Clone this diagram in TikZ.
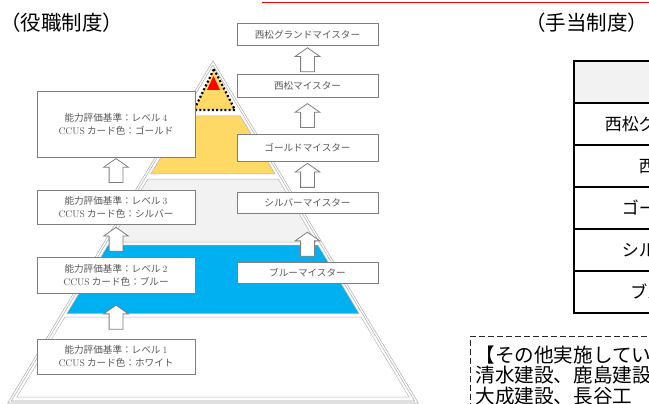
\documentclass[tikz,border=0pt]{standalone}
\usepackage{fontspec}
\newfontfamily\jp{Noto Sans CJK JP}
\usepackage{xcolor}
\usepackage{tikz}
\usetikzlibrary{shapes.arrows,positioning}
\definecolor{goldband}{HTML}{FFD966}
\definecolor{blueband}{HTML}{00B0F0}
\definecolor{silverband}{HTML}{F2F2F2}
\definecolor{boxline}{HTML}{7F7F7F}
\definecolor{boxtext}{HTML}{595959}

\begin{document}
\begin{tikzpicture}[x=1pt, y=-1pt,
    lvbox/.style={rectangle, draw=boxline, fill=white, line width=0.8pt, minimum width=158pt, align=center, text=boxtext, font=\jp\fontsize{9.6}{13}\selectfont},
    mbox/.style={rectangle, draw=boxline, fill=white, line width=0.8pt, minimum width=141pt, text=boxtext, font=\jp\fontsize{9.6}{10}\selectfont},
    blockup/.style={single arrow, draw=boxline, fill=white, line width=0.8pt, shape border rotate=90, minimum width=24pt, minimum height=24pt, single arrow head extend=5.5pt, single arrow tip angle=110, inner sep=6.5pt},
    band/.style={draw=gray!60, line width=0.5pt},
    cell/.style={rectangle, draw=black, line width=1.2pt, minimum width=248pt, minimum height=42pt, font=\jp\fontsize{17}{17}\selectfont},
    heading/.style={anchor=west, inner sep=0pt, font=\jp\fontsize{20.5}{20.5}\selectfont},
    notebox/.style={anchor=north west, draw=black!85, dash pattern=on 6pt off 3pt, line width=0.9pt, text width=260pt, align=left, inner xsep=5pt, inner ysep=9pt, font=\jp\fontsize{19.6}{20.5}\selectfont}
]
\useasboundingbox (0,0) rectangle (649,404);
\clip (0,0) rectangle (649,404);

\draw[red, line width=1pt] (262,2.5) -- (649,2.5);

% headings
\node[heading] (yaku) at (0,23) {（役職制度）};
\node[heading] (teate) at (525,23) {（手当制度）};

% pyramid
\filldraw[band, fill=goldband] (185.7,116) -- (240.3,116) -- (275.2,174) -- (150.8,174) -- cycle;
\filldraw[band, fill=silverband] (147.8,179) -- (278.2,179) -- (316,242) -- (110,242) -- cycle;
\filldraw[band, fill=blueband] (108.2,245) -- (317.8,245) -- (359,313.5) -- (67,313.5) -- cycle;
\filldraw[band, fill=white] (64.9,317) -- (361.1,317) -- (409.1,397) -- (16.9,397) -- cycle;
\filldraw[fill=goldband, draw=black, line width=2.2pt, dash pattern=on 2pt off 2.2pt] (214,69) -- (235,110) -- (194,110) -- cycle;
\fill[red] (213.5,76) -- (220,90) -- (207,90) -- cycle;
\draw[line width=0.6pt, draw=gray!70, double=white, double distance=1.4pt] (213,63) -- (416.5,402) -- (9.5,402) -- cycle;

% levels
\node[lvbox, minimum height=35pt] (lv1) at (116,356.5) {能力評価基準：レベル \textrm{1}\\\textrm{CCUS} カード色：ホワイト};
\node[lvbox, minimum height=36pt, above=45pt of lv1] (lv2) {能力評価基準：レベル \textrm{2}\\\textrm{CCUS} カード色：ブルー};
\node[lvbox, minimum height=34pt, above=32pt of lv2] (lv3) {能力評価基準：レベル \textrm{3}\\\textrm{CCUS} カード色：シルバー};
\node[lvbox, minimum height=66pt, above=32pt of lv3] (lv4) {能力評価基準：レベル \textrm{4}\\\textrm{CCUS} カード色：ゴールド};

\node[blockup, above=9pt of lv1] (b12) {};
\node[blockup, above=5pt of lv2] (b23) {};
\node[blockup, above=7pt of lv3] (b34) {};

% meisters
\node[mbox, minimum height=21pt] (m1) at (307.5,272.5) {ブルーマイスター};
\node[mbox, minimum height=21pt, above=48pt of m1] (m2) {シルバーマイスター};
\node[mbox, minimum height=27pt, above=30pt of m2] (m3) {ゴールドマイスター};
\node[mbox, minimum height=23pt, above=36pt of m3] (m4) {西松マイスター};
\node[mbox, minimum height=22pt, above=28pt of m4] (m5) {西松グランドマイスター};

\node[blockup, above=5pt of m1] (a12) {};
\node[blockup, above=4pt of m2] (a23) {};
\node[blockup, above=6pt of m3] (a34) {};
\node[blockup, above=2pt of m4] (a45) {};

% table
\node[cell, fill=silverband] (head) at (698,82) {};
\foreach \txt [count=\i] in {西松グランドマイスター, 西松マイスター, ゴールドマイスター, シルバーマイスター, ブルーマイスター}
  \node[cell] (row\i) at (698,82+42*\i) {\txt};

% note
\node[notebox] (note) at (470,336) {【その他実施してい\\清水建設、鹿島建設\\大成建設、長谷工};
\end{tikzpicture}
\end{document}
